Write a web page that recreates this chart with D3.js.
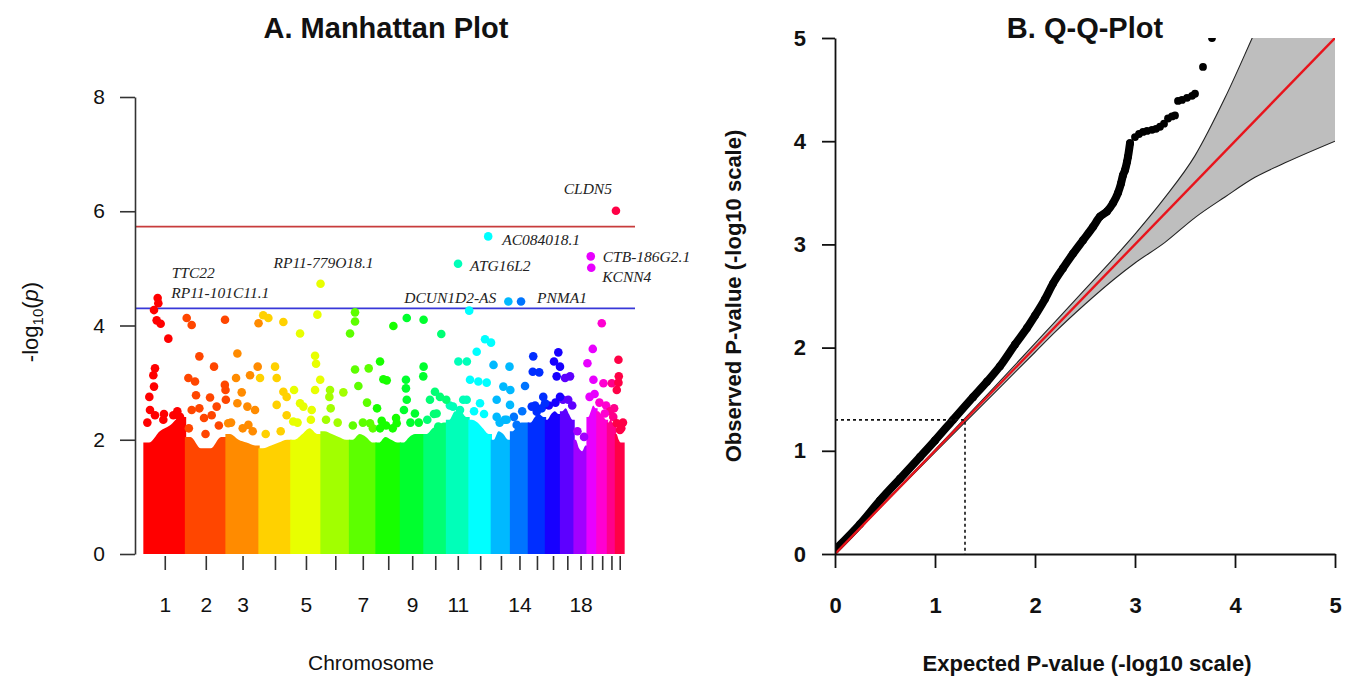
<!DOCTYPE html>
<html>
<head>
<meta charset="utf-8">
<script src="https://cdn.jsdelivr.net/npm/d3@7"></script>
<style>
  html, body { margin: 0; padding: 0; background: #fff; }
  svg { display: block; }
  text { font-family: "Liberation Sans", Arial, Helvetica, sans-serif; fill: #111; }
</style>
</head>
<body>
<script>
// ---------------- DATA ----------------
const chromosomes = ["1","2","3","4","5","6","7","8","9","10","11","12","13","14","15","16","17","18","19","20","21","22"];
const chrLengthsMb = [249.25,243.2,198.0,191.15,180.9,171.1,159.1,146.4,141.2,135.5,135.0,133.9,115.2,107.3,102.5,90.4,81.2,78.1,59.1,63.0,48.1,51.3];
const chrTickLabels = ["1","2","3","","5","","7","","9","","11","","","14","","","","18","","","",""];
const chrColors = ["#ff0000","#ff4600","#ff8b00","#ffd100","#e8ff00","#a2ff00","#5dff00","#17ff00","#00ff2e","#00ff74","#00ffb9","#00ffff",
                   "#00b9ff","#0074ff","#002eff","#1700ff","#5d00ff","#a200ff","#e800ff","#ff00d1","#ff008b","#ff0046"];
// top of the solid SNP cloud (-log10 p) sampled at four points across each chromosome
const denseTopQ1 = [1.95,2.05,2.1,1.85,2.0,2.15,2.0,1.95,1.95,2.1,2.35,2.35,2.0,2.15,2.3,2.35,2.5,2.0,2.4,2.5,2.3,2.1];
const denseTopQ2 = [2.15,1.85,2.0,1.9,2.1,2.1,2.1,2.05,2.05,2.2,2.5,2.3,2.15,2.25,2.4,2.45,2.55,1.85,2.5,2.45,2.35,2.0];
const denseTopQ3 = [2.25,1.85,1.95,1.95,2.2,2.05,2.05,2.0,2.1,2.25,2.5,2.2,2.1,2.3,2.45,2.5,2.45,1.8,2.6,2.4,2.3,1.95];
const denseTopQ4 = [2.4,2.05,1.9,2.0,2.1,2.0,1.95,1.95,2.1,2.3,2.4,2.1,2.0,2.3,2.4,2.45,2.35,1.9,2.55,2.35,2.25,1.95];

// scattered SNPs above the dense cloud: chromosome, position (Mb), -log10(p)
const snpChr = [1,1,1,1,1,1,1,1,1,1,1,1,1,
  2,2,2,2,2,2,2,2,2,2,2,2,2,2,2,2,2,
  3,3,3,3,3,3,3,3,3,3,3,
  4,4,4,4,4,4,4,4,4,4,
  5,5,5,5,5,5,5,5,5,5,5,
  6,6,6,6,
  7,7,7,7,7,7,7,7,
  8,8,8,8,8,8,8,8,8,
  9,9,9,9,9,9,9,9,9,
  10,10,10,10,10,10,10,
  11,11,11,11,11,
  12,12,12,12,12,12,12,12,
  13,13,13,13,13,13,13,13,
  14,14,
  15,15,15,15,15,15,15,
  16,16,16,16,16,
  17,17,17,
  19,19,19,
  20,20,20,
  21,21,
  22,22,22,22,22,22];
const snpPosMb = [60,76,100,146,66,56,60,32,36,66,116,176,216,
  7,37,237,83,171,17,57,63,147,236,240,242,37,83,187,157,111,
  13,68,60,144,190,94,68,128,174,134,195,
  25,56,146,96,6,106,146,166,106,166,
  14,55,19,55,159,145,151,176,145,75,125,
  54,50,134,58,
  33,33,3,33,53,115,105,123,
  24,44,64,104,120,124,34,24,6,
  38,33,33,38,21,87,139,139,137,
  104,66,36,96,134,76,86,
  71,39,81,122,121,
  1,96,132,46,6,56,106,66,
  13,109,32,112,32,92,72,114,
  87,37,
  29,26,65,89,100,20,50,
  77,51,87,67,87,
  27,57,46,
  34,2,38,
  29,39,47,
  26,35,
  18,8,18,20,8,27];
const snpLog10P = [4.27,4.09,4.03,3.77,3.25,3.13,2.93,2.75,2.52,2.43,2.35,2.43,2.40,
  4.13,4.01,4.10,3.46,3.28,3.08,3.02,2.78,2.74,2.96,2.87,2.70,2.52,2.55,2.58,2.43,2.38,
  2.29,3.51,3.08,3.13,3.28,2.83,2.64,2.58,2.52,2.26,4.04,
  4.18,4.13,4.06,3.28,3.08,3.08,2.84,2.75,2.61,2.43,
  2.32,3.86,2.87,2.64,4.19,3.47,3.33,3.05,2.87,2.58,2.52,
  2.87,2.75,2.83,2.55,
  4.23,4.07,3.86,3.23,2.94,3.25,2.65,2.29,
  3.37,3.06,3.04,3.99,2.38,2.29,2.33,2.20,2.55,
  4.13,3.05,2.90,2.70,2.52,2.46,4.10,3.28,3.11,
  3.85,2.84,2.70,2.75,2.70,2.46,2.23,
  3.37,2.58,2.52,3.37,2.70,
  4.26,3.76,3.70,3.54,3.05,3.02,3.00,2.64,
  3.31,3.28,2.70,2.61,2.40,2.35,2.93,2.87,
  2.94,2.26,
  3.46,3.19,3.18,2.75,2.64,2.58,2.49,
  3.53,3.37,3.28,3.11,2.75,
  3.08,3.11,2.70,
  3.59,3.34,3.05,
  4.04,2.99,2.46,
  2.99,2.40,
  3.00,2.87,3.40,3.11,2.29,2.17];

// SNPs sitting on the ragged edge of the cloud
const edgeChr   = [1,1,1,2,2,2,3,3,3,4,4,5,5,6,6,7,7,7,8,8,9,9,10,10,11,11,12,12,13,13,14,14,15,15,16,16,17,17,18,18,19,19,20,20,21,21,22,22];
const edgePosMb = [20,120,200,20,120,200,30,100,160,40,130,40,120,30,100,20,80,140,60,100,60,110,20,60,20,100,30,90,50,80,20,70,40,80,20,60,15,70,20,60,15,45,15,55,15,40,35,45];
const edgeLog10P= [2.30,2.45,2.50,2.20,2.10,2.25,2.30,2.20,2.15,2.10,2.15,2.30,2.35,2.35,2.30,2.25,2.30,2.20,2.25,2.20,2.30,2.30,2.35,2.45,2.60,2.70,2.50,2.45,2.30,2.35,2.40,2.50,2.60,2.55,2.60,2.65,2.70,2.60,2.15,2.05,2.75,2.80,2.65,2.60,2.50,2.55,2.20,2.30];

// annotated top SNPs
const labelGenes = ["CLDN5","AC084018.1","ATG16L2","CTB-186G2.1","KCNN4","PNMA1","DCUN1D2-AS","RP11-779O18.1","TTC22","RP11-101C11.1"];
const labelChr   = [22,12,11,19,19,14,13,5,1,1];
const labelPosMb = [3,115,69,22,25,63,102,178,82,86];
const labelLog10P= [6.01,5.56,5.08,5.21,5.01,4.42,4.42,4.73,4.48,4.39];

const yTicksManhattan = [0,2,4,6,8];
const genomeWideLine = 5.73;
const suggestiveLine = 4.30;

// Q-Q plot
const qqExpected = [0.00,0.25,0.45,0.65,0.85,1.00,1.18,1.38,1.52,1.65,1.80,1.92,2.00,2.10,2.18,2.28,2.38,2.48,2.58,2.65,2.72,2.78,2.83,2.86,2.88,2.90,2.92,2.93,2.95,
                    3.00,3.04,3.08,3.12,3.17,3.21,3.25,3.29,3.33,3.37,3.40,3.43,3.47,3.52,3.57,3.60,3.68,3.77];
const qqObserved = [0.04,0.29,0.52,0.73,0.94,1.10,1.30,1.52,1.67,1.82,2.03,2.19,2.31,2.47,2.62,2.77,2.91,3.04,3.17,3.27,3.32,3.40,3.50,3.59,3.67,3.72,3.80,3.85,3.98,
                    4.04,4.07,4.09,4.10,4.11,4.12,4.14,4.17,4.22,4.24,4.25,4.39,4.40,4.42,4.44,4.46,4.72,5.00];
const ciExpected = [0,0.5,1,1.5,2,2.2,2.5,2.8,3.0,3.3,3.6,3.9,4.2,4.5,5.0];
const ciUpper    = [0,0.505,1.01,1.52,2.04,2.25,2.565,2.88,3.10,3.455,3.86,4.42,5.06,5.7,6.8];
const ciLower    = [0,0.495,0.985,1.47,1.955,2.15,2.42,2.67,2.82,3.02,3.26,3.46,3.65,3.79,4.0];
const qqTicks = [0,1,2,3,4,5];
const nominalP = 1.3;

// ---------------- CHART ----------------
const W = 1358, H = 681;
const svg = d3.select("body").append("svg").attr("width", W).attr("height", H);

// ===== Panel A: Manhattan =====
const cumStart = [0, ...d3.cumsum(chrLengthsMb)].slice(0, chrLengthsMb.length);
const totalLen = d3.sum(chrLengthsMb);
const xM = d3.scaleLinear().domain([0, totalLen]).range([144, 624]);
const yM = d3.scaleLinear().domain([0, 8]).range([554, 97]);
const gA = svg.append("g");

// dense SNP cloud per chromosome (ragged top)
const cloudArea = d3.area().x(d => xM(d.g)).y0(yM(0)).y1(d => yM(d.v)).curve(d3.curveMonotoneX);
gA.append("g").selectAll("path").data(chromosomes).join("path")
  .attr("d", (c, i) => {
    const s = cumStart[i], L = chrLengthsMb[i];
    const q = [denseTopQ1[i], denseTopQ2[i], denseTopQ3[i], denseTopQ4[i]];
    const pts = [{g: s - 4, v: q[0]}, {g: s + 0.12 * L, v: q[0]}, {g: s + 0.38 * L, v: q[1]},
                 {g: s + 0.62 * L, v: q[2]}, {g: s + 0.88 * L, v: q[3]}, {g: s + L + 4, v: q[3]}];
    return cloudArea(pts);
  })
  .attr("fill", (c, i) => chrColors[i]);

// threshold lines
[[genomeWideLine, "#c83c3c"], [suggestiveLine, "#3838d8"]].forEach(([v, c]) => {
  gA.append("line").attr("x1", 135).attr("x2", 635)
    .attr("y1", yM(v)).attr("y2", yM(v))
    .attr("stroke", c).attr("stroke-width", 1.8);
});

// scattered SNPs
const snps = edgeChr.map((c, i) => ({chr: c, pos: edgePosMb[i], p: edgeLog10P[i]}))
  .concat(snpChr.map((c, i) => ({chr: c, pos: snpPosMb[i], p: snpLog10P[i]})))
  .concat(labelChr.map((c, i) => ({chr: c, pos: labelPosMb[i], p: labelLog10P[i]})));
gA.append("g").selectAll("circle").data(snps).join("circle")
  .attr("cx", d => xM(cumStart[d.chr - 1] + d.pos))
  .attr("cy", d => yM(d.p))
  .attr("r", 4.3)
  .attr("fill", d => chrColors[d.chr - 1]);

// gene labels
const labelLayout = {
  "CLDN5":        {anchor: "end",    dx: -4,  dy: -17},
  "AC084018.1":   {anchor: "start",  dx: 14,  dy: 9},
  "ATG16L2":      {anchor: "start",  dx: 12,  dy: 7},
  "CTB-186G2.1":  {anchor: "start",  dx: 12,  dy: 6},
  "KCNN4":        {anchor: "start",  dx: 11,  dy: 14},
  "PNMA1":        {anchor: "start",  dx: 16,  dy: 1},
  "DCUN1D2-AS":   {anchor: "end",    dx: -12, dy: 1},
  "RP11-779O18.1":{anchor: "middle", dx: 3,   dy: -16},
  "TTC22":        {anchor: "start",  dx: 14,  dy: -20},
  "RP11-101C11.1":{anchor: "start",  dx: 13,  dy: -5}
};
gA.append("g").selectAll("text").data(labelGenes).join("text")
  .attr("x", (g, i) => xM(cumStart[labelChr[i] - 1] + labelPosMb[i]) + labelLayout[g].dx)
  .attr("y", (g, i) => yM(labelLog10P[i]) + labelLayout[g].dy)
  .attr("text-anchor", g => labelLayout[g].anchor)
  .style("font-family", "'Liberation Serif', 'Times New Roman', serif")
  .style("font-style", "italic")
  .style("font-size", "15.5px")
  .style("fill", "#222")
  .text(g => g);

// y axis
const axYM = gA.append("g").attr("transform", "translate(135,0)")
  .call(d3.axisLeft(yM).tickValues(yTicksManhattan).tickSize(15).tickSizeOuter(0).tickPadding(15).tickFormat(d3.format("d")));
axYM.selectAll("path, line").attr("stroke", "#333").attr("stroke-width", 1.6);
axYM.selectAll("text").style("font-size", "21px").style("fill", "#111");

// x axis (chromosome ticks)
const chrCenters = chromosomes.map((c, i) => cumStart[i] + chrLengthsMb[i] / 2);
const axXM = gA.append("g").attr("transform", "translate(0,556)")
  .call(d3.axisBottom(xM).tickValues(chrCenters).tickSize(14).tickPadding(27).tickFormat((d, i) => chrTickLabels[i]));
axXM.select(".domain").remove();
axXM.selectAll("line").attr("stroke", "#333").attr("stroke-width", 1.6);
axXM.selectAll("text").style("font-size", "21px").style("fill", "#111");

// titles
gA.append("text").attr("x", 386).attr("y", 38).attr("text-anchor", "middle")
  .style("font-size", "29px").style("font-weight", "bold").text("A. Manhattan Plot");
gA.append("text").attr("x", 371).attr("y", 670).attr("text-anchor", "middle")
  .style("font-size", "21px").text("Chromosome");
const yl = gA.append("text").attr("transform", "translate(38,322) rotate(-90)")
  .attr("text-anchor", "middle").style("font-size", "22px");
yl.append("tspan").text("-log");
yl.append("tspan").attr("dy", 5).style("font-size", "15px").text("10");
yl.append("tspan").attr("dy", -5).text("(");
yl.append("tspan").style("font-style", "italic").text("p");
yl.append("tspan").text(")");

// ===== Panel B: Q-Q plot =====
const xQ = d3.scaleLinear().domain([0, 5]).range([835, 1335]);
const yQ = d3.scaleLinear().domain([0, 5]).range([554, 38]);
const gB = svg.append("g");
svg.append("defs").append("clipPath").attr("id", "qqclip")
  .append("rect").attr("x", 835).attr("y", 38).attr("width", 500).attr("height", 516);
const plotB = gB.append("g").attr("clip-path", "url(#qqclip)");

const ci = ciExpected.map((e, i) => ({e, lo: ciLower[i], hi: ciUpper[i]}));
plotB.append("path").datum(ci)
  .attr("d", d3.area().x(d => xQ(d.e)).y0(d => yQ(d.lo)).y1(d => yQ(d.hi)).curve(d3.curveMonotoneX))
  .attr("fill", "#bebebe");
["hi", "lo"].forEach(k => {
  plotB.append("path").datum(ci)
    .attr("d", d3.line().x(d => xQ(d.e)).y(d => yQ(d[k])).curve(d3.curveMonotoneX))
    .attr("fill", "none").attr("stroke", "#222").attr("stroke-width", 1.1);
});

const qq = qqExpected.map((e, i) => ({e, o: qqObserved[i]}));
const denseQQ = qq.filter(d => d.e <= 2.95);
plotB.append("path").datum(denseQQ)
  .attr("d", d3.line().x(d => xQ(d.e)).y(d => yQ(d.o)).curve(d3.curveMonotoneX))
  .attr("fill", "none").attr("stroke", "#000").attr("stroke-width", 8)
  .attr("stroke-linecap", "round").attr("stroke-linejoin", "round");
plotB.append("g").selectAll("circle").data(qq).join("circle")
  .attr("cx", d => xQ(d.e)).attr("cy", d => yQ(d.o)).attr("r", 3.9).attr("fill", "#000");

// identity line
plotB.append("line").attr("x1", xQ(0)).attr("y1", yQ(0)).attr("x2", xQ(5)).attr("y2", yQ(5))
  .attr("stroke", "#e8141c").attr("stroke-width", 2.4);

// nominal p = 0.05 guides
gB.append("path")
  .attr("d", `M${xQ(0)},${yQ(nominalP)}H${xQ(nominalP)}V${yQ(0)}`)
  .attr("fill", "none").attr("stroke", "#111").attr("stroke-width", 1.6).attr("stroke-dasharray", "3,3");

const axXQ = gB.append("g").attr("transform", "translate(0,554)")
  .call(d3.axisBottom(xQ).tickValues(qqTicks).tickSize(14).tickSizeOuter(0).tickPadding(29).tickFormat(d3.format("d")));
const axYQ = gB.append("g").attr("transform", "translate(835,0)")
  .call(d3.axisLeft(yQ).tickValues(qqTicks).tickSize(13).tickSizeOuter(0).tickPadding(16).tickFormat(d3.format("d")));
[axXQ, axYQ].forEach(a => {
  a.selectAll("path, line").attr("stroke", "#111").attr("stroke-width", 1.8);
  a.selectAll("text").style("font-size", "22px").style("font-weight", "bold").style("fill", "#111");
});

gB.append("text").attr("x", 1085).attr("y", 38).attr("text-anchor", "middle")
  .style("font-size", "29px").style("font-weight", "bold").text("B. Q-Q-Plot");
gB.append("text").attr("x", 1087).attr("y", 671).attr("text-anchor", "middle")
  .style("font-size", "22px").style("font-weight", "bold").text("Expected P-value (-log10 scale)");
gB.append("text").attr("transform", "translate(741,296) rotate(-90)").attr("text-anchor", "middle")
  .style("font-size", "22px").style("font-weight", "bold").text("Observed P-value (-log10 scale)");
</script>
</body>
</html>
